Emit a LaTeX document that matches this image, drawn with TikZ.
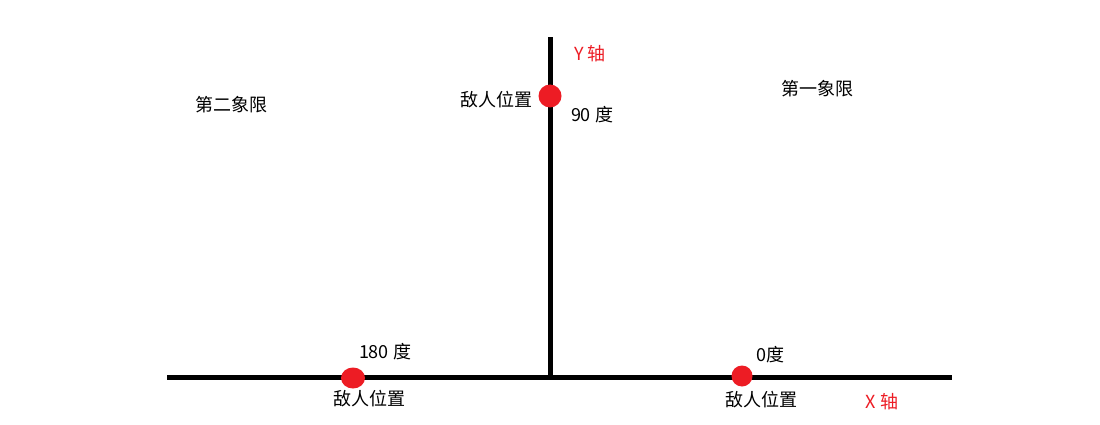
\documentclass[tikz,border=0pt]{standalone}
\usepackage{fontspec}
\usetikzlibrary{shapes.geometric}
\setmainfont{Noto Sans CJK SC}
\definecolor{pred}{HTML}{ED1C24}
\begin{document}
\begin{tikzpicture}[x=1pt,y=-1pt,
  axis/.style={line width=5pt},
  dot/.style={circle,fill=pred,inner sep=0pt,minimum size=23pt},
  lbl/.style={font=\fontsize{18}{20}\selectfont,inner sep=0pt,anchor=center},
  rlbl/.style={lbl,text=pred}]
\fill[white] (0,0) rectangle (1100,425);
\useasboundingbox (0,0) rectangle (1100,425);
\coordinate (xl) at (167,377);
\coordinate (xr) at (952,377);
\coordinate (o) at (550,377);
\coordinate (yt) at (550,37);
\draw[axis] (xl) -- (xr);
\draw[axis] (o) -- (yt);
\node[dot] (d90) at (550,96) {};
\node[dot,ellipse,minimum width=24pt,minimum height=21pt] (d180) at (353,378) {};
\node[dot,minimum size=21pt] (d0) at (742,376) {};
\node[rlbl] (ylab) at (590,54) {Y 轴};
\node[rlbl] (xlab) at (882,402) {X 轴};
\node[lbl] (e90) at (496,100) {敌人位置};
\node[lbl] (t90) at (592,115) {90 度};
\node[lbl] (q2) at (231,105) {第二象限};
\node[lbl] (q1) at (817,89) {第一象限};
\node[lbl] (t180) at (385,352) {180 度};
\node[lbl] (e180) at (369,399) {敌人位置};
\node[lbl] (t0) at (770,355) {0度};
\node[lbl] (e0) at (761,400) {敌人位置};
\end{tikzpicture}
\end{document}
